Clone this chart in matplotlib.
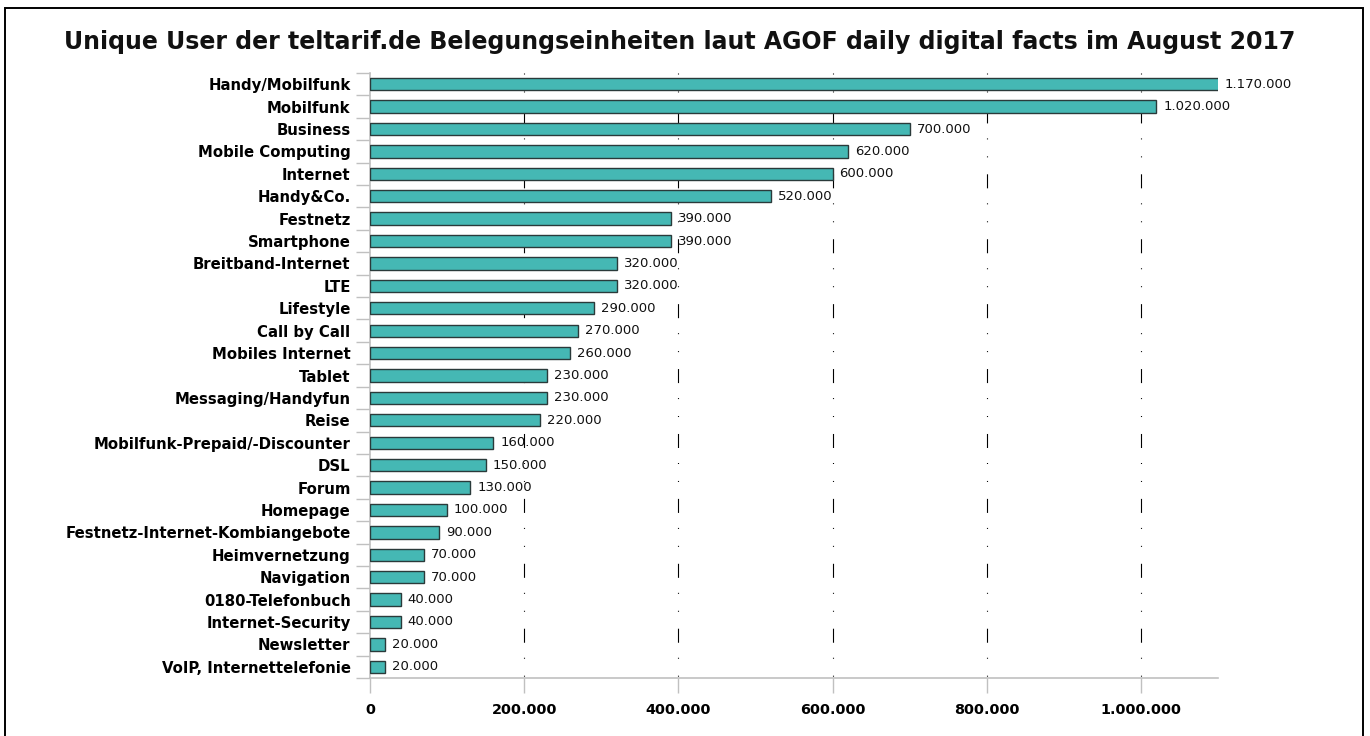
import numpy as np
import matplotlib
matplotlib.use("Agg")
import matplotlib.pyplot as plt
from matplotlib.patches import Rectangle

plt.rcParams['font.family'] = ['DejaVu Sans']
plt.rcParams['lines.scale_dashes'] = False

title = "Unique User der teltarif.de Belegungseinheiten laut AGOF daily digital facts im August 2017"

categories = [
    "Handy/Mobilfunk", "Mobilfunk", "Business", "Mobile Computing", "Internet",
    "Handy&Co.", "Festnetz", "Smartphone", "Breitband-Internet", "LTE",
    "Lifestyle", "Call by Call", "Mobiles Internet", "Tablet", "Messaging/Handyfun",
    "Reise", "Mobilfunk-Prepaid/-Discounter", "DSL", "Forum", "Homepage",
    "Festnetz-Internet-Kombiangebote", "Heimvernetzung", "Navigation",
    "0180-Telefonbuch", "Internet-Security", "Newsletter", "VoIP, Internettelefonie",
]
users = [
    1170000, 1020000, 700000, 620000, 600000,
    520000, 390000, 390000, 320000, 320000,
    290000, 270000, 260000, 230000, 230000,
    220000, 160000, 150000, 130000, 100000,
    90000, 70000, 70000,
    40000, 40000, 20000, 20000,
]
x_ticks = [0, 200000, 400000, 600000, 800000, 1000000]
x_max = 1100000


def fmt(v):
    return f"{v:,}".replace(",", ".")


fig = plt.figure(figsize=(13.7, 7.36), dpi=100)
W, H = 1370, 736
ax = fig.add_axes([370 / W, (H - 678) / H, (1218 - 370) / W, 605 / H])

y = np.arange(len(categories))
ax.barh(y, users, height=0.55, color="#45b8b4", edgecolor="#2a3a3a",
        linewidth=1.0, zorder=3)

ax.set_xlim(0, x_max)
ax.set_ylim(len(categories) - 0.5, -0.5)

# dotted/dashed vertical gridlines, pattern starts at the top
grid_style = (0, (0.72, 12.2, 0.72, 12.2, 10.1, 10.8))
for xv in x_ticks[1:]:
    ax.axvline(xv, ymin=1, ymax=0, color="black", lw=0.8,
               linestyle=grid_style, zorder=1)

for yi, v in zip(y, users):
    ax.text(min(v, x_max) + 9000, yi, fmt(v), va="center", ha="left",
            fontsize=9.5, color="#111111", zorder=4)

ax.set_yticks(y)
ax.set_yticklabels(categories, fontsize=10.7, fontweight="bold")
ax.set_yticks(np.arange(len(categories) + 1) - 0.5, minor=True)
ax.tick_params(axis="y", which="major", length=0, pad=14)
ax.tick_params(axis="y", which="minor", length=10, color="#c0c0c0", width=1)

ax.set_xticks(x_ticks)
ax.set_xticklabels([fmt(t) for t in x_ticks], fontsize=10.4, fontweight="bold")
ax.tick_params(axis="x", length=11, color="#c0c0c0", width=1, pad=7)

for s in ["top", "right"]:
    ax.spines[s].set_visible(False)
for s in ["left", "bottom"]:
    ax.spines[s].set_color("#c0c0c0")
    ax.spines[s].set_linewidth(1.2)

fig.text(680 / W, 1 - 42 / H, title, ha="center", va="center",
         fontsize=17, fontweight="bold", color="#111111")

fig.patches.append(Rectangle((4.5 / W, -0.05), (1363 - 4.5) / W, 1.05 - 7.5 / H,
                             transform=fig.transFigure, fill=False,
                             edgecolor="black", linewidth=1.4))

fig.savefig("out.png", dpi=100)
